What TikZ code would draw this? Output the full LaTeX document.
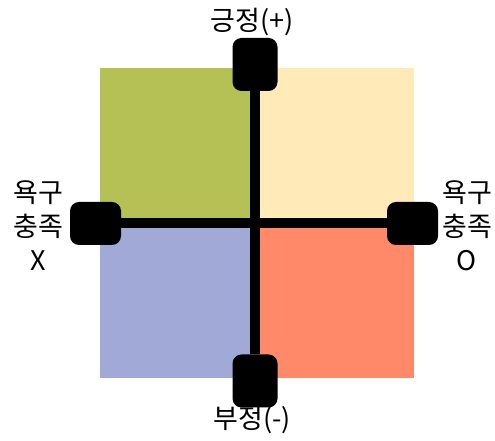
\documentclass[tikz,border=0pt]{standalone}
\usepackage{fontspec}
\newfontfamily\cjk{Noto Sans CJK KR}
\definecolor{qgreen}{RGB}{181,192,85}
\definecolor{qyellow}{RGB}{255,234,184}
\definecolor{qblue}{RGB}{161,170,214}
\definecolor{qred}{RGB}{255,137,104}
\begin{document}
\begin{tikzpicture}[x=1pt,y=1pt,
  every node/.style={font=\cjk\fontsize{27}{34}\selectfont},
  vpad/.style={fill=black,rounded corners=9pt,minimum width=45pt,minimum height=53pt,inner sep=0pt},
  hpad/.style={fill=black,rounded corners=9pt,minimum width=51pt,minimum height=43pt,inner sep=0pt},
  axisline/.style={line width=10pt,black}]
\useasboundingbox (0,0) rectangle (495,441);
% quadrants
\fill[qgreen] (100,218) rectangle (254,373);
\fill[qyellow] (254,218) rectangle (414,373);
\fill[qblue] (100,63) rectangle (254,218);
\fill[qred] (254,63) rectangle (414,218);
% handles on the axes
\node[vpad] (pos) at (255,376.5) {};
\node[vpad] (neg) at (255,60) {};
\node[hpad] (nox) at (95.5,217.5) {};
\node[hpad] (yeso) at (412.5,217.5) {};
\draw[axisline] (pos) -- (neg);
\draw[axisline] (nox) -- (yeso);
% labels
\node (lpos) at (252,419) {긍정(+)};
\node (lneg) at (252,21) {부정(-)};
\node[align=center] (lnox) at (38,215) {욕구\\충족\\X};
\node[align=center] (lyeso) at (467,215) {욕구\\충족\\O};
\end{tikzpicture}
\end{document}
